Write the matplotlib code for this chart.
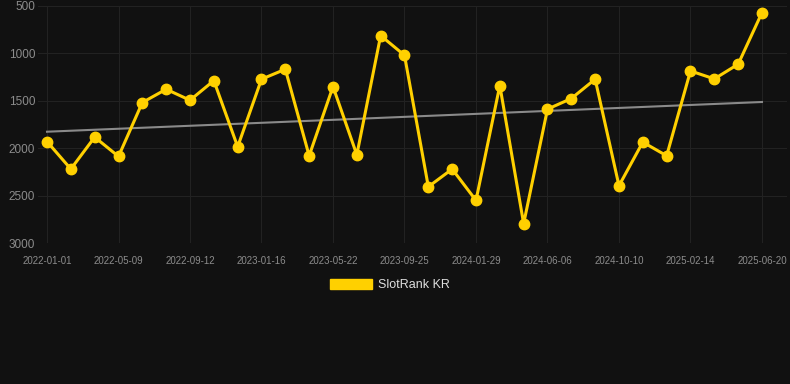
import numpy as np
import matplotlib
matplotlib.use("Agg")
import matplotlib.pyplot as plt
from matplotlib.patches import Patch

# rank values (lower is better, axis inverted)
ranks = [1930, 2220, 1883, 2087, 1518, 1378, 1494, 1287, 1985, 1272,
         1167, 2080, 1350, 2070, 812, 1020, 2407, 2220, 2551, 1339,
         2796, 1588, 1476, 1272, 2396, 1936, 2080, 1185, 1269, 1114, 570]
# every third point carries a date label
tick_labels = ["2022-01-01", "2022-05-09", "2022-09-12", "2023-01-16",
               "2023-05-22", "2023-09-25", "2024-01-29", "2024-06-06",
               "2024-10-10", "2025-02-14", "2025-06-20"]
series_name = "SlotRank KR"

bg = "#111111"
gold = "#ffd000"

plt.rcParams["font.family"] = ["Liberation Sans", "DejaVu Sans"]

fig = plt.figure(figsize=(7.9, 3.84), dpi=100, facecolor=bg)
ax = fig.add_axes([38 / 790, 1 - 243 / 384, 749 / 790, 237 / 384])
ax.set_facecolor(bg)

x = np.arange(len(ranks))
# linear trend line
k, b = np.polyfit(x, ranks, 1)
ax.plot(x, k * x + b, color="#8a8a8a", lw=1.5, zorder=2)
ax.plot(x, ranks, color=gold, lw=2.2, marker="o", ms=7.5, zorder=3)

ax.set_ylim(3000, 500)
ax.set_yticks([500, 1000, 1500, 2000, 2500, 3000])
ax.set_xlim(-0.378, 31.05)
ax.set_xticks(x[::3])
ax.set_xticklabels(tick_labels)

ax.grid(True, color="#222222", lw=0.8, zorder=0)
for s in ax.spines.values():
    s.set_visible(False)
ax.tick_params(axis="y", length=0, pad=2, labelsize=8.5, labelcolor="#8c8c8c")
ax.tick_params(axis="x", length=0, pad=9, labelsize=7, labelcolor="#8c8c8c")

handle = Patch(facecolor=gold, edgecolor=gold)
fig.legend([handle], [series_name], loc="center",
           bbox_to_anchor=(390 / 790, 1 - 285 / 384), frameon=False,
           fontsize=9, labelcolor="#dddddd", handlelength=3.4,
           handleheight=0.9, handletextpad=0.5)

fig.savefig("out.png", dpi=100, facecolor=bg)
